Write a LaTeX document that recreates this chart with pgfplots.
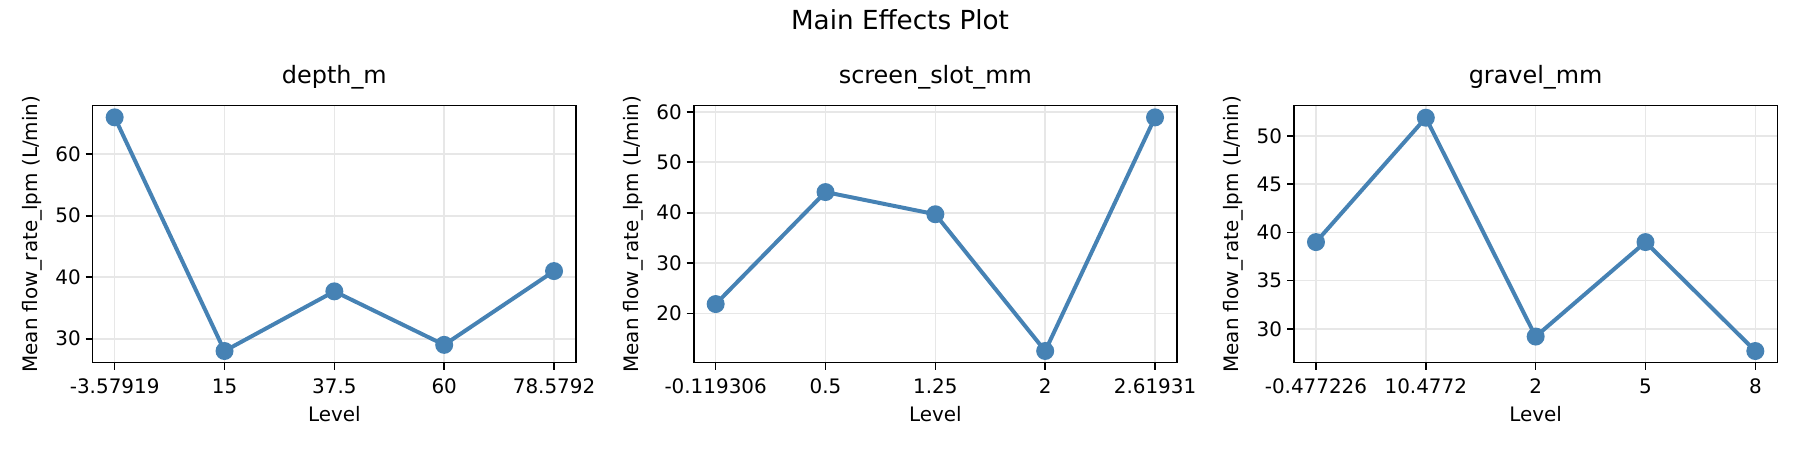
\documentclass[border=0pt]{standalone}
\usepackage{fontspec}
\setmainfont{DejaVu Sans}
\usepackage{pgfplots}
\pgfplotsset{compat=1.18}

\definecolor{steel}{RGB}{70,130,180}
\definecolor{gridgray}{RGB}{231,231,231}

% shared look of the three main-effect panels
\pgfplotsset{
  effects/.style={
    scale only axis,
    width=291.07pt, height=154.78pt,
    anchor=south west,
    xmin=-0.2, xmax=4.2, xtick={0,1,2,3,4},
    xtick pos=left, ytick pos=left,
    tick align=outside, major tick length=4.2pt,
    tick style={black, line width=0.96pt},
    axis line style={black, line width=0.96pt},
    grid=major, grid style={gridgray, line width=0.96pt},
    /pgf/number format/assume math mode=true,
    tick label style={font=\fontsize{12}{14}\selectfont},
    xticklabel style={anchor=base, yshift=-14.2pt},
    yticklabel style={anchor=east, inner sep=0pt, xshift=-2.8pt},
    xlabel={Level},
    ylabel={Mean flow\_rate\_lpm (L/min)},
    label style={font=\fontsize{12}{14}\selectfont},
    xlabel style={at={(axis description cs:0.5,0)}, anchor=base, yshift=-35.5pt},
    ylabel style={at={(axis description cs:0,0.5)}, anchor=center, rotate=0, yshift=36.6pt},
    title style={font=\fontsize{14.4}{16}\selectfont, at={(axis description cs:0.5,1)}, anchor=base, yshift=7.6pt},
  },
  steelline/.style={steel, line width=2.4pt, mark=*, mark size=4.2pt,
    mark options={fill=steel, draw=none}},
}

\begin{document}
\begin{tikzpicture}
\useasboundingbox (0,0) rectangle (1084.05pt,271.01pt);
\node[font=\fontsize{15.8}{18}\selectfont, anchor=base] at (542.03pt,253.4pt) {Main Effects Plot};

\begin{axis}[effects, at={(55.83pt,52.58pt)},
    title={depth\_m},
    xticklabels={-3.57919,15,37.5,60,78.5792},
    ymin=26.1, ymax=67.9, ytick={30,40,50,60}]
\addplot[steelline] coordinates {(0,66.0)(1,28.0)(2,37.7)(3,29.0)(4,41.0)};
\end{axis}

\begin{axis}[effects, at={(417.78pt,52.58pt)},
    title={screen\_slot\_mm},
    xticklabels={-0.119306,0.5,1.25,2,2.61931},
    ymin=10.28, ymax=61.22, ytick={20,30,40,50,60}]
\addplot[steelline] coordinates {(0,21.9)(1,44.1)(2,39.7)(3,12.6)(4,58.9)};
\end{axis}

\begin{axis}[effects, at={(779.31pt,52.58pt)},
    title={gravel\_mm},
    xticklabels={-0.477226,10.4772,2,5,8},
    ymin=26.49, ymax=53.15, ytick={30,35,40,45,50}]
\addplot[steelline] coordinates {(0,39.0)(1,51.9)(2,29.2)(3,39.0)(4,27.7)};
\end{axis}
\end{tikzpicture}
\end{document}
